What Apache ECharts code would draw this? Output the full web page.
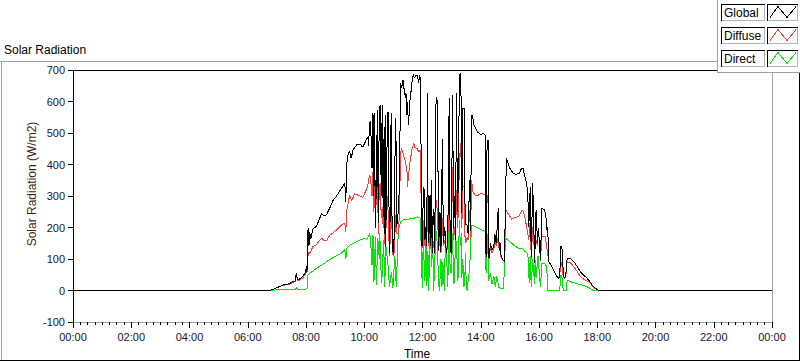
<!DOCTYPE html>
<html><head><meta charset="utf-8">
<script src="https://cdn.jsdelivr.net/npm/echarts@6/dist/echarts.min.js"></script>
<style>html,body{margin:0;padding:0;background:#fff}#c{width:800px;height:361px}
#c svg path{shape-rendering:crispEdges}</style>
</head><body><div id="c"></div>
<script>
// ---- data (time in minutes since 00:00, value in W/m2) ----
const seriesNames = ['Global', 'Diffuse', 'Direct'];
const seriesColors = ['#000000', '#ff3c3c', '#00e600'];
const yMin = -100, yMax = 700, yStep = 100;
const xMin = 0, xMax = 1440, xStep = 120;

const globalData = [[0,0],[405,0],[412,3],[419,8],[432,17],[446,22],[453,28],[458,30],[460,55],[463,33],[468,38],[473,44],[478,55],[481,76],[482,60],[484,192],[485,140],[486,198],[487,145],[488,180],[490,165],[494,195],[501,203],[506,220],[512,245],[516,238],[522,240],[529,262],[536,287],[543,300],[553,324],[560,340],[562,282],[564,404],[567,436],[570,441],[573,420],[577,446],[584,462],[591,465],[597,455],[604,478],[608,488],[609,460],[611,531],
[613,536],[616,389],[618,562],[620,300],[621,562],[623,200],[625,345],[627,573],[629,214],[631,580],[633,589],[635,300],[637,589],[639,234],[641,520],[643,139],[644,557],[646,224],[647,480],[649,568],[652,118],[654,300],[655,520],[656,562],[657,250],[659,123],[661,118],[663,400],[665,547],[667,203],[670,250],[672,314],[675,658],[677,644],[680,668],[682,640],[685,610],[686,626],[688,557],[689,599],[691,525],[694,600],[696,626],[698,658],[701,687],[703,675],[707,684],[710,681],[712,658],[714,684],[716,670],[718,234],[719,140],[721,260],[723,330],[725,160],[727,200],[729,140],[730,626],[732,150],[734,300],[736,140],[738,350],[740,118],[742,260],[744,200],[745,118],[748,615],[751,600],[753,130],[756,250],[758,123],[761,480],[763,150],[766,200],[769,118],[772,150],[775,610],[777,150],[779,118],[782,620],[784,200],[786,300],[788,160],[790,626],[792,250],[794,350],[796,684],[799,690],[801,246],[803,578],[806,578],[807,300],[809,208],[812,208],[814,180],[817,350],[819,190],[821,557],[823,557],[826,525],[833,504],[840,494],[845,499],[849,494],[850,123],[852,107],[853,470],[855,478],[857,103],[860,150],[863,130],[867,140],[869,180],[872,150],[876,261],[878,130],[880,150],[882,107],[884,102],[889,91],[891,300],[893,420],[900,388],[907,372],[913,369],[920,372],[924,388],[927,388],[931,361],[935,335],[937,298],[939,203],[942,330],[944,107],[947,340],[949,230],[951,86],[954,256],[957,150],[959,197],[963,97],[966,261],[971,256],[974,240],[976,192],[978,200],[980,91],[985,81],[990,65],[995,49],[1000,39],[1003,45],[1004,139],[1007,139],[1009,100],[1010,45],[1013,39],[1016,60],[1018,102],[1025,102],[1032,91],[1039,76],[1045,60],[1052,49],[1059,39],[1065,28],[1072,12],[1079,4],[1083,0],[1440,0]];

const diffuseData = [[0,0],[405,0],[412,3],[419,8],[432,16],[446,20],[453,26],[458,28],[460,48],[463,30],[468,35],[473,40],[478,50],[481,70],[482,56],[484,107],[486,123],[488,118],[490,125],[494,139],[501,145],[506,155],[512,166],[516,160],[522,158],[529,175],[539,187],[545,195],[553,208],[560,214],[562,185],[564,256],[570,303],[574,285],[580,307],[591,300],[597,296],[604,319],[607,330],[611,367],
[613,356],[616,300],[618,377],[620,250],[621,340],[625,270],[627,388],[629,180],[631,330],[633,340],[635,230],[637,266],[639,200],[641,290],[643,130],[645,203],[648,300],[652,110],[656,250],[659,115],[661,110],[665,240],[667,180],[670,181],[672,230],[675,440],[677,451],[680,435],[684,414],[688,383],[689,330],[691,360],[693,393],[698,446],[702,467],[704,455],[709,451],[712,440],[716,446],[718,160],[719,135],[723,180],[725,140],[727,160],[729,135],[730,300],[732,140],[734,192],[736,135],[738,266],[740,115],[744,160],[745,115],[748,287],[751,250],[753,125],[756,170],[758,118],[761,230],[763,140],[766,160],[769,115],[772,140],[775,383],[777,140],[779,115],[782,393],[784,160],[786,200],[788,150],[790,319],[792,200],[794,250],[796,414],[799,467],[801,200],[803,330],[806,330],[807,180],[809,150],[812,170],[814,160],[817,256],[819,170],[821,351],[824,314],[828,303],[835,303],[842,309],[849,303],[850,129],[852,105],[853,290],[855,303],[857,100],[860,135],[863,120],[867,130],[869,160],[872,140],[876,171],[878,125],[880,140],[882,102],[884,100],[889,91],[891,256],[898,240],[904,226],[911,232],[918,235],[925,256],[928,250],[932,224],[935,197],[939,160],[942,224],[944,100],[947,200],[949,180],[951,86],[952,171],[957,140],[959,197],[963,95],[966,171],[973,171],[976,139],[980,91],[985,81],[990,65],[995,49],[1000,39],[1003,42],[1004,91],[1007,85],[1010,42],[1013,37],[1016,55],[1018,91],[1025,88],[1032,75],[1039,60],[1045,44],[1055,33],[1063,28],[1072,10],[1079,3],[1083,0],[1440,0]];

const directData = [[0,0],[405,0],[420,2],[446,3],[458,4],[460,9],[463,4],[478,4],[482,5],[484,49],[488,55],[501,70],[512,80],[522,91],[529,98],[539,107],[552,118],[560,129],[562,100],[564,135],[570,144],[580,152],[591,160],[601,166],[605,162],[611,181],
[613,160],[616,81],[618,176],[620,28],[623,170],[625,17],[628,165],[631,100],[632,181],[634,82],[636,23],[640,160],[642,12],[645,139],[649,80],[652,12],[656,60],[659,7],[663,110],[666,12],[670,181],[672,203],[675,218],[680,224],[688,224],[695,229],[702,229],[709,234],[716,229],[718,76],[720,7],[722,224],[723,100],[725,30],[727,180],[728,15],[729,139],[732,0],[734,160],[735,40],[736,224],[739,76],[741,150],[743,0],[746,120],[748,190],[751,139],[753,20],[755,0],[758,100],[760,10],[762,90],[765,0],[767,150],[769,139],[772,12],[775,213],[777,60],[779,55],[780,170],[782,181],[784,20],[786,30],[788,180],[790,139],[793,30],[796,224],[798,140],[800,181],[801,40],[803,100],[805,10],[807,33],[809,120],[810,5],[812,0],[815,45],[817,65],[821,208],[828,203],[835,198],[842,192],[849,187],[851,55],[855,180],[856,30],[860,55],[863,20],[867,45],[870,10],[873,45],[877,10],[880,7],[887,7],[891,166],[898,158],[908,144],[918,134],[925,135],[932,123],[937,118],[940,23],[942,110],[944,10],[947,100],[949,60],[951,20],[952,97],[954,40],[958,110],[961,50],[963,10],[966,86],[971,86],[976,76],[978,0],[1003,0],[1004,49],[1007,45],[1010,0],[1016,0],[1018,33],[1025,28],[1035,23],[1049,17],[1062,10],[1072,0],[1440,0]];

const seriesData = [globalData, diffuseData, directData];

// ---- chart ----
const FONT = '"Liberation Sans", Arial, sans-serif';
const chart = echarts.init(document.getElementById('c'), null, {renderer: 'svg'});

function hhmm(v) {
  const m = Math.round(v) % 1440;
  const h = Math.floor(m / 60), mm = m % 60;
  return (h < 10 ? '0' : '') + h + ':' + (mm < 10 ? '0' : '') + mm;
}

const graphics = [
  // outer frame
  {type: 'line', shape: {x1: 0, y1: 61.5, x2: 717, y2: 61.5}, style: {stroke: '#a0a0a0', lineWidth: 1}, silent: true},
  {type: 'line', shape: {x1: 1.5, y1: 61, x2: 1.5, y2: 361}, style: {stroke: '#a0a0a0', lineWidth: 1}, silent: true},
  {type: 'line', shape: {x1: 0, y1: 360.5, x2: 800, y2: 360.5}, style: {stroke: '#000', lineWidth: 1}, silent: true},
  {type: 'line', shape: {x1: 799.5, y1: 72, x2: 799.5, y2: 361}, style: {stroke: '#000', lineWidth: 1}, silent: true},
  // legend panel
  {type: 'rect', shape: {x: 717.5, y: -2, width: 90, height: 74}, style: {fill: '#fff', stroke: '#a0a0a0', lineWidth: 1}, z: 100},
  // title & axis titles
  {type: 'text', x: 4, y: 50, style: {text: 'Solar Radiation', font: '12px ' + FONT, fill: '#000', textVerticalAlign: 'middle'}},
  {type: 'text', x: 32, y: 184, rotation: Math.PI / 2, style: {text: 'Solar Radiation (W/m2)', font: '12px ' + FONT, fill: '#3c1e14', textAlign: 'center', textVerticalAlign: 'middle'}},
  {type: 'text', x: 417, y: 354, style: {text: 'Time', font: '12px ' + FONT, fill: '#000', textAlign: 'center', textVerticalAlign: 'middle'}}
];

seriesNames.forEach(function (name, i) {
  const top = 4.5 + i * 23, h = 16;
  const bx = 721.5, bw = 43, sx = 767.5, sw = 30;
  [[bx, bw], [sx, sw]].forEach(function (b) {
    graphics.push({type: 'rect', shape: {x: b[0], y: top, width: b[1], height: h}, style: {fill: '#fff'}, z: 101});
    graphics.push({type: 'polyline', shape: {points: [[b[0], top + h], [b[0], top], [b[0] + b[1], top]]}, style: {stroke: '#000', lineWidth: 1, fill: null}, z: 102});
    graphics.push({type: 'polyline', shape: {points: [[b[0] + b[1], top], [b[0] + b[1], top + h], [b[0], top + h]]}, style: {stroke: '#b4b4b4', lineWidth: 1, fill: null}, z: 102});
  });
  graphics.push({type: 'text', x: 724, y: top + h / 2 + 0.5, style: {text: name, font: '12px ' + FONT, fill: '#000', textVerticalAlign: 'middle'}, z: 103});
  graphics.push({type: 'polyline', shape: {points: [[770, top + 13], [778, top + 2], [787, top + 13], [796, top + 2]]}, style: {stroke: seriesColors[i], lineWidth: 1, fill: null}, z: 103});
});

chart.setOption({
  animation: false,
  backgroundColor: '#fff',
  grid: {left: 73, right: 28, top: 70, bottom: 39, show: true, borderColor: '#a0a0a0', borderWidth: 1, backgroundColor: 'transparent', containLabel: false},
  xAxis: [{
    type: 'value', min: xMin, max: xMax, interval: xStep, position: 'bottom',
    axisLine: {show: true, onZero: false, lineStyle: {color: '#a0a0a0', width: 1}},
    axisTick: {show: true, length: 6, lineStyle: {color: '#000', width: 1}},
    minorTick: {show: true, splitNumber: 8, length: 3, lineStyle: {color: '#000', width: 1}},
    splitLine: {show: false}, minorSplitLine: {show: false},
    axisLabel: {margin: 9, fontSize: 11, fontFamily: FONT, color: '#14143c', formatter: hhmm, showMinLabel: true, showMaxLabel: true}
  }, {
    type: 'value', min: xMin, max: xMax, position: 'top',
    axisLine: {show: true, onZero: false, lineStyle: {color: '#000', width: 1}},
    axisTick: {show: false}, axisLabel: {show: false}, splitLine: {show: false}
  }],
  yAxis: {
    type: 'value', min: yMin, max: yMax, interval: yStep,
    axisLine: {show: true, onZero: false, lineStyle: {color: '#000', width: 1}},
    axisTick: {show: true, length: 5, lineStyle: {color: '#000', width: 1}},
    splitLine: {show: false},
    axisLabel: {margin: 8, fontSize: 11, fontFamily: FONT, color: '#14143c'}
  },
  graphic: graphics,
  series: seriesNames.map(function (name, i) {
    return {
      name: name, type: 'line', data: seriesData[i], xAxisIndex: 0,
      showSymbol: false, symbol: 'none', smooth: false, silent: true,
      lineStyle: {color: seriesColors[i], width: 1},
      z: 4 - i
    };
  })
});
</script></body></html>
